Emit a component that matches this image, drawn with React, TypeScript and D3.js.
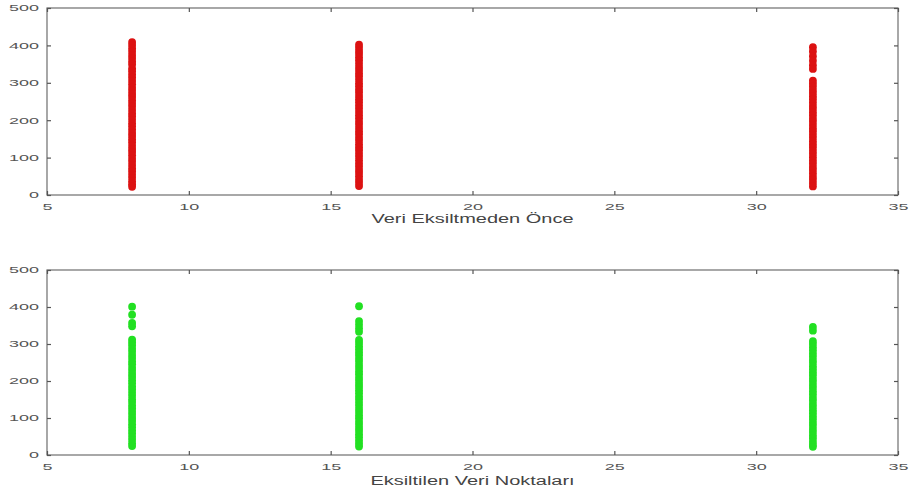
import React, { useEffect, useRef } from "react";
import * as d3 from "d3";

// column x positions (same in both panels)
const xCategories = [8, 16, 32];

// top panel: before reduction
const red8 = [409, 401, 392, 383, 374, 366, 357, 349, 338, 331, 322, 314, 305, 296, 287, 279, 270, 262, 253, 244, 236, 227, 218, 210, 201, 192, 184, 175, 166, 158, 149, 141, 132, 123, 115, 106, 97, 89, 80, 71, 63, 54, 46, 37, 29, 22];
const red16 = [402, 394, 385, 377, 368, 360, 351, 342, 334, 325, 317, 308, 299, 291, 282, 274, 265, 256, 248, 239, 231, 222, 213, 205, 196, 188, 179, 170, 162, 153, 145, 136, 127, 119, 110, 102, 93, 84, 76, 67, 59, 50, 41, 33, 24];
const red32 = [395, 384, 371, 359, 347, 337, 306, 298, 290, 281, 273, 264, 256, 247, 238, 230, 221, 213, 204, 196, 187, 178, 170, 161, 153, 144, 135, 127, 118, 110, 101, 92, 84, 75, 67, 58, 49, 41, 32, 23];

// bottom panel: reduced points
const green8 = [401, 379, 357, 348, 312, 304, 296, 287, 279, 270, 262, 253, 245, 236, 228, 219, 211, 202, 194, 185, 177, 168, 160, 151, 143, 134, 126, 117, 109, 100, 92, 83, 75, 66, 58, 49, 41, 32, 24];
const green16 = [402, 362, 352, 342, 333, 311, 303, 294, 286, 277, 269, 260, 252, 243, 235, 226, 218, 209, 201, 192, 184, 175, 167, 158, 150, 141, 133, 124, 116, 107, 99, 90, 82, 73, 65, 56, 48, 39, 31, 23];
const green32 = [346, 336, 308, 300, 291, 283, 274, 266, 257, 249, 240, 232, 223, 215, 206, 198, 189, 181, 172, 164, 155, 147, 138, 130, 121, 113, 104, 96, 87, 79, 70, 62, 53, 45, 36, 28, 22];

const xTicks = [5, 10, 15, 20, 25, 30, 35];
const yTicks = [0, 100, 200, 300, 400, 500];

const panels = [
  { title: "Veri Eksiltmeden Önce", color: "#dc1212", series: [red8, red16, red32], top: 8, bottom: 195, titleY: 223 },
  { title: "Eksiltilen Veri Noktaları", color: "#22e022", series: [green8, green16, green32], top: 270, bottom: 455, titleY: 485 },
];

export default function App() {
  const ref = useRef<SVGSVGElement>(null);

  useEffect(() => {
    const svg = d3.select(ref.current);
    svg.selectAll("*").remove();
    const left = 47, right = 898;
    const x = d3.scaleLinear().domain([5, 35]).range([left, right]);
    const font = "'Liberation Sans', Arial, sans-serif";

    panels.forEach(p => {
      const y = d3.scaleLinear().domain([0, 500]).range([p.bottom, p.top]);
      const g = svg.append("g");

      g.append("rect")
        .attr("x", left).attr("y", p.top)
        .attr("width", right - left).attr("height", p.bottom - p.top)
        .attr("fill", "none").attr("stroke", "#6e6e6e").attr("stroke-width", 1.2);

      const xb = g.append("g").attr("transform", `translate(0,${p.bottom})`)
        .call(d3.axisBottom(x).tickValues(xTicks).tickSize(-4).tickPadding(9));
      g.append("g").attr("transform", `translate(0,${p.top})`)
        .call(d3.axisTop(x).tickValues(xTicks).tickSize(-4).tickFormat(() => ""));
      const yl = g.append("g").attr("transform", `translate(${left},0)`)
        .call(d3.axisLeft(y).tickValues(yTicks).tickSize(-4).tickPadding(8));
      g.append("g").attr("transform", `translate(${right},0)`)
        .call(d3.axisRight(y).tickValues(yTicks).tickSize(-4).tickFormat(() => ""));

      g.selectAll(".domain").remove();
      g.selectAll(".tick line").attr("stroke", "#555").attr("stroke-width", 1.2);
      g.selectAll(".tick text")
        .attr("fill", "#555").attr("font-size", 9).attr("font-family", font);
      xb.selectAll(".tick text").attr("transform", "scale(2,1)");
      yl.selectAll(".tick text").attr("x", -8 / 2).attr("transform", "scale(2,1)");

      p.series.forEach((vals, i) => {
        g.append("g").selectAll("circle")
          .data(vals)
          .enter()
          .append("circle")
          .attr("cx", x(xCategories[i]))
          .attr("cy", d => y(d))
          .attr("r", 3.9)
          .attr("fill", p.color);
      });

      g.append("text")
        .attr("transform", `translate(${(left + right) / 2},${p.titleY}) scale(1.6,1)`)
        .attr("text-anchor", "middle")
        .attr("font-family", font)
        .attr("font-size", 12.5)
        .attr("fill", "#444")
        .text(p.title);
    });
  }, []);

  return (
    <svg ref={ref} width={911} height={492}
      style={{ position: "absolute", left: 0, top: 0, background: "#fff" }} />
  );
}
